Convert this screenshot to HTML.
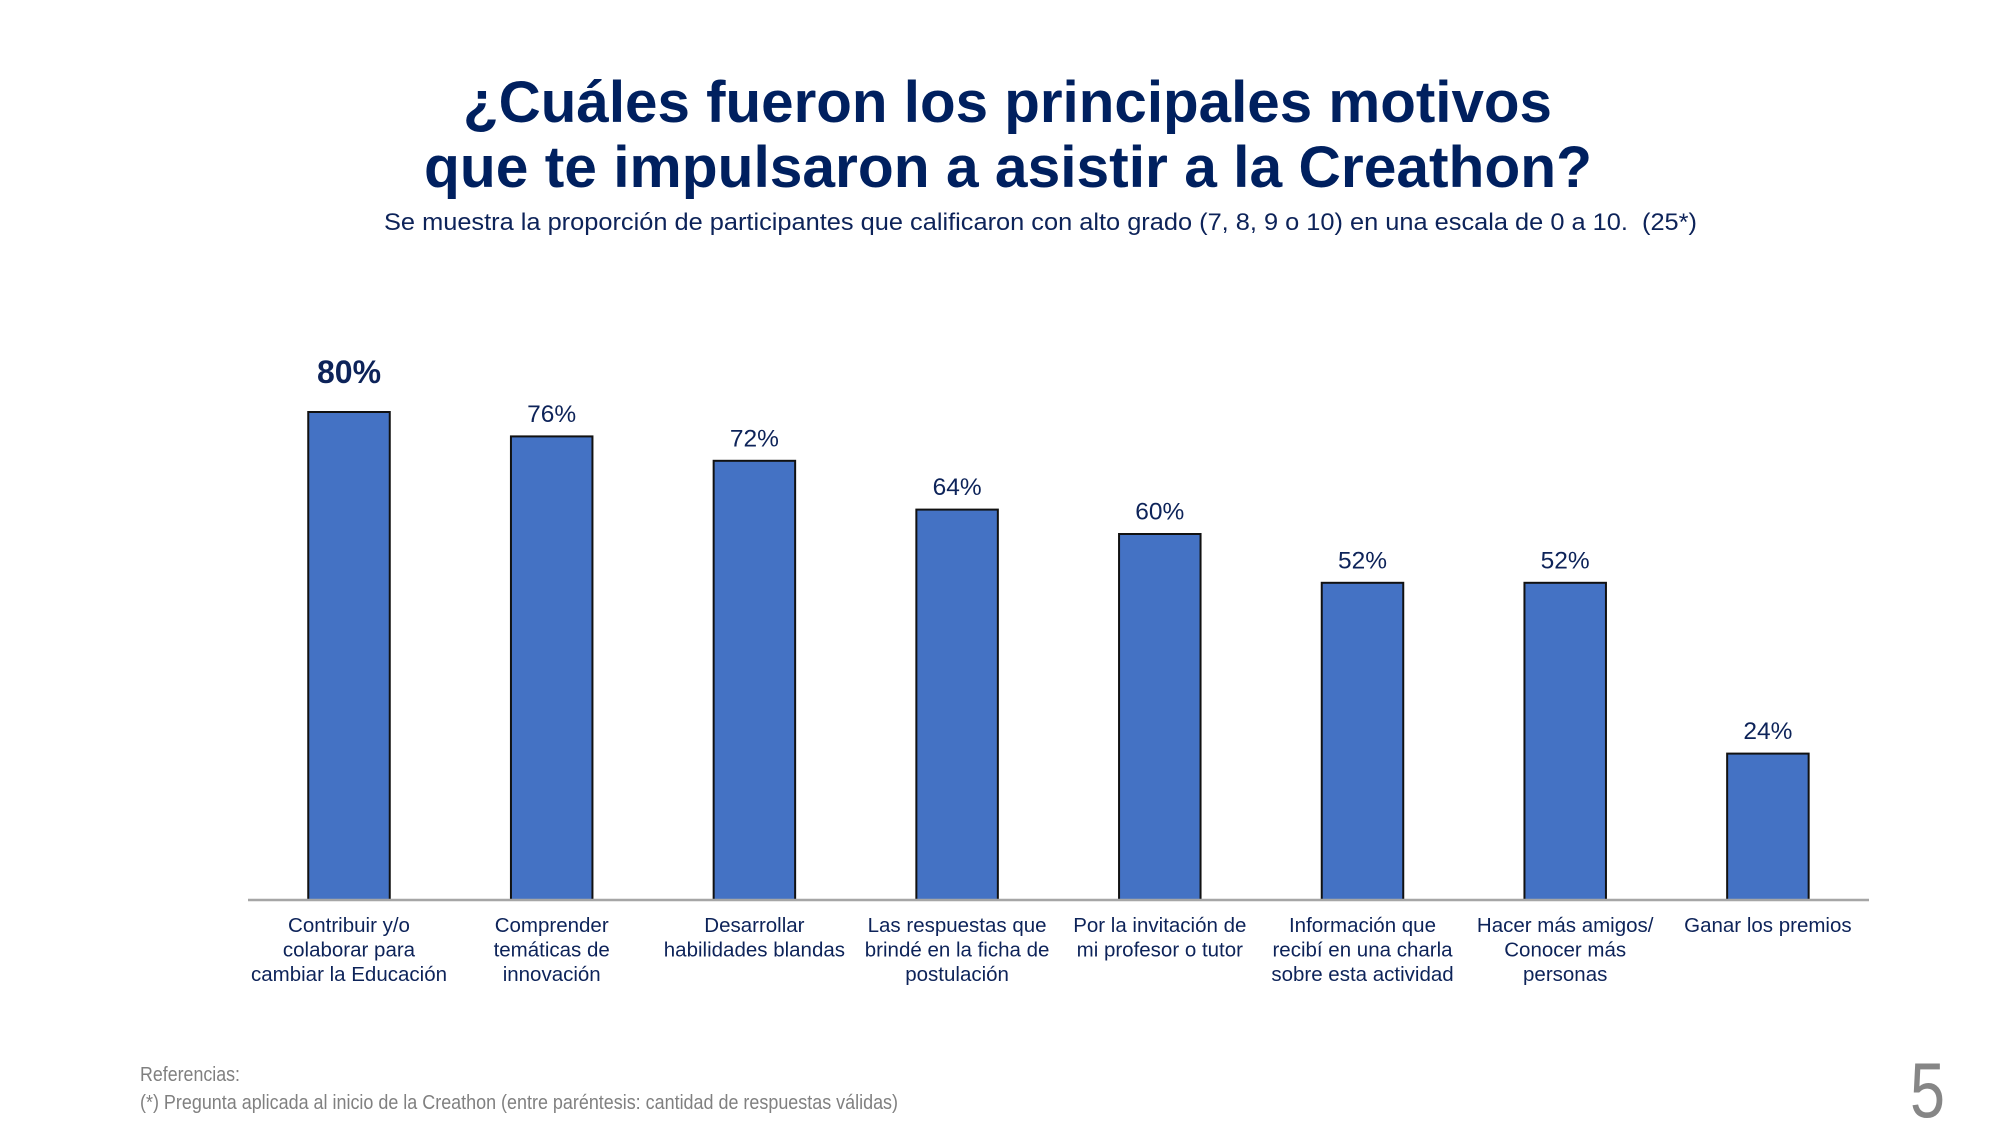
<!DOCTYPE html>
<html>
<head>
<meta charset="utf-8">
<style>
  html, body { margin: 0; padding: 0; background: #ffffff; }
  svg { display: block; }
  text { font-family: "Liberation Sans", Arial, sans-serif; }
</style>
</head>
<body>
<svg width="2000" height="1125" viewBox="0 0 2000 1125" xmlns="http://www.w3.org/2000/svg">
  <rect x="0" y="0" width="2000" height="1125" fill="#ffffff"/>

  <!-- Title -->
  <text x="463" y="122" font-size="58" font-weight="bold" fill="#00205f" textLength="1089" lengthAdjust="spacingAndGlyphs">¿Cuáles fueron los principales motivos</text>
  <text x="424" y="187" font-size="58" font-weight="bold" fill="#00205f" textLength="1168" lengthAdjust="spacingAndGlyphs">que te impulsaron a asistir a la Creathon?</text>

  <!-- Subtitle -->
  <text x="384" y="230" font-size="24.5" fill="#0d2359" textLength="1313" lengthAdjust="spacingAndGlyphs">Se muestra la proporción de participantes que calificaron con alto grado (7, 8, 9 o 10) en una escala de 0 a 10.&#160;&#160;(25*)</text>

  <!-- Bars -->
  <g fill="#4472C4" stroke="#111111" stroke-width="2">
    <rect x="308.25" y="412" width="81.5" height="488"/>
    <rect x="510.95" y="436.4" width="81.5" height="463.6"/>
    <rect x="713.65" y="460.8" width="81.5" height="439.2"/>
    <rect x="916.35" y="509.6" width="81.5" height="390.4"/>
    <rect x="1119.05" y="534" width="81.5" height="366"/>
    <rect x="1321.75" y="582.8" width="81.5" height="317.2"/>
    <rect x="1524.45" y="582.8" width="81.5" height="317.2"/>
    <rect x="1727.15" y="753.6" width="81.5" height="146.4"/>
  </g>

  <!-- Axis -->
  <line x1="248" y1="900" x2="1869" y2="900" stroke="#a6a6a6" stroke-width="2.5"/>

  <!-- Value labels -->
  <g fill="#0d2359" text-anchor="middle">
    <text x="349" y="383" font-size="32" font-weight="bold">80%</text>
    <text x="551.7" y="421.9" font-size="24.5">76%</text>
    <text x="754.4" y="446.3" font-size="24.5">72%</text>
    <text x="957.1" y="495.1" font-size="24.5">64%</text>
    <text x="1159.8" y="519.5" font-size="24.5">60%</text>
    <text x="1362.5" y="568.3" font-size="24.5">52%</text>
    <text x="1565.2" y="568.3" font-size="24.5">52%</text>
    <text x="1767.9" y="739.1" font-size="24.5">24%</text>
  </g>

  <!-- Category labels -->
  <g fill="#0d2359" text-anchor="middle" font-size="20.5">
    <text x="349" y="932">Contribuir y/o</text>
    <text x="349" y="956.5">colaborar para</text>
    <text x="349" y="981">cambiar la Educación</text>

    <text x="551.7" y="932">Comprender</text>
    <text x="551.7" y="956.5">temáticas de</text>
    <text x="551.7" y="981">innovación</text>

    <text x="754.4" y="932">Desarrollar</text>
    <text x="754.4" y="956.5">habilidades blandas</text>

    <text x="957.1" y="932">Las respuestas que</text>
    <text x="957.1" y="956.5">brindé en la ficha de</text>
    <text x="957.1" y="981">postulación</text>

    <text x="1159.8" y="932">Por la invitación de</text>
    <text x="1159.8" y="956.5">mi profesor o tutor</text>

    <text x="1362.5" y="932">Información que</text>
    <text x="1362.5" y="956.5">recibí en una charla</text>
    <text x="1362.5" y="981">sobre esta actividad</text>

    <text x="1565.2" y="932">Hacer más amigos/</text>
    <text x="1565.2" y="956.5">Conocer más</text>
    <text x="1565.2" y="981">personas</text>

    <text x="1767.9" y="932">Ganar los premios</text>
  </g>

  <!-- Footer -->
  <text x="140" y="1081" font-size="20" fill="#808080" textLength="100" lengthAdjust="spacingAndGlyphs">Referencias:</text>
  <text x="140" y="1109" font-size="20" fill="#808080" textLength="758" lengthAdjust="spacingAndGlyphs">(*) Pregunta aplicada al inicio de la Creathon (entre paréntesis: cantidad de respuestas válidas)</text>

  <!-- Page number -->
  <text x="1910" y="1117" font-size="78" fill="#868686" textLength="35" lengthAdjust="spacingAndGlyphs">5</text>
</svg>
</body>
</html>
